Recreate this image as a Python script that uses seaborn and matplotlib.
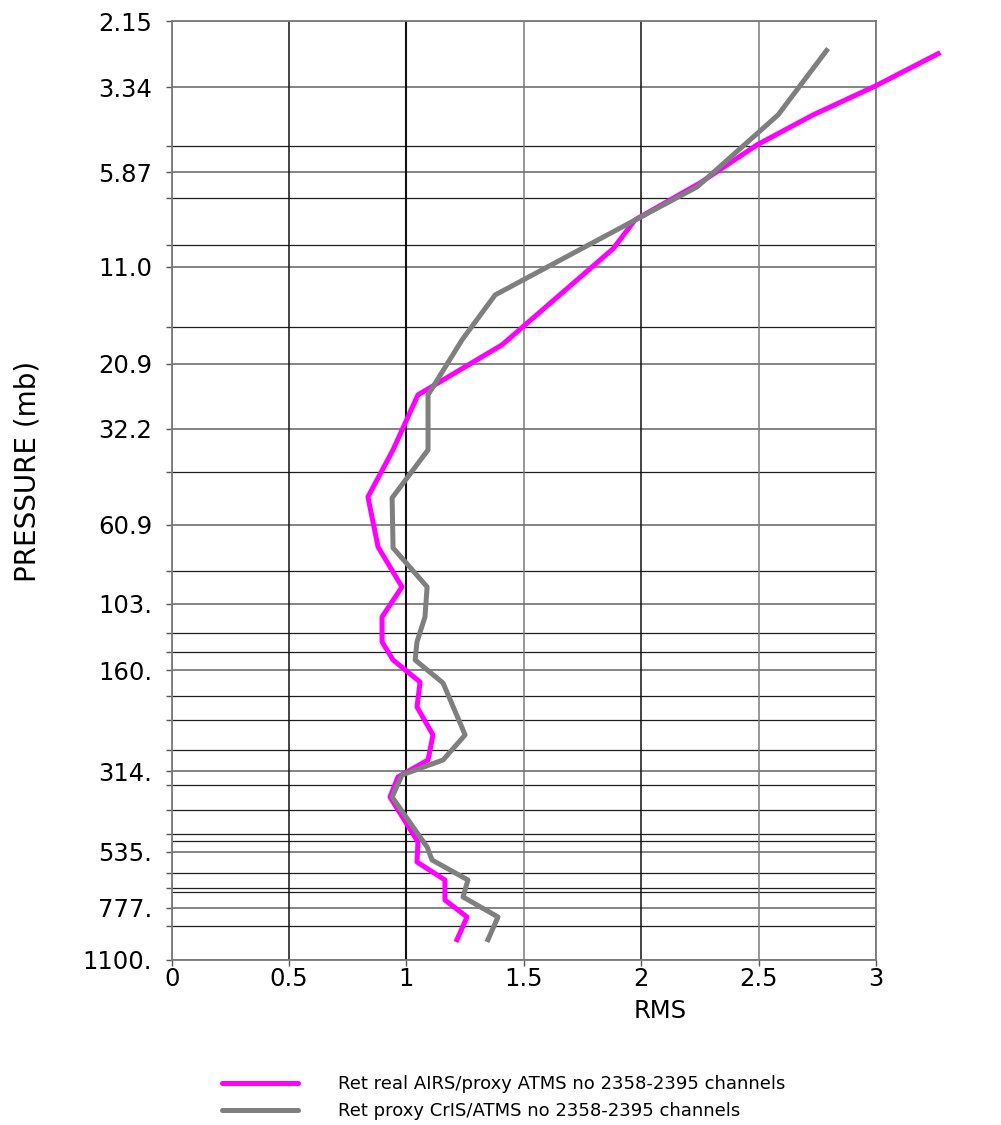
import numpy as np
import pandas as pd
import matplotlib
matplotlib.use("Agg")
import matplotlib.pyplot as plt
import seaborn as sns

# ---------------- data ----------------
label_levels = [2.1526, 3.3398, 5.8776, 11.0038, 20.9224, 32.2744, 60.9895,
                103.0172, 160.4959, 314.1369, 535.2322, 777.7897, 1100.0]
label_text = ["2.15", "3.34", "5.87", "11.0", "20.9", "32.2", "60.9",
              "103.", "160.", "314.", "535.", "777.", "1100."]
minor_levels = [4.9204, 6.9567, 9.5119, 16.4318, 43.1001, 83.2310, 125.6456,
                142.3848, 190.3203, 223.4415, 272.9191, 343.6176, 407.4738,
                477.9607, 617.5112, 683.6673, 878.6201]
extra_levels = [500.0, 700.0]
x_ticks = [0, 0.5, 1, 1.5, 2, 2.5, 3]
x_tick_text = ["0", "0.5", "1", "1.5", "2", "2.5", "3"]

series_names = ["Ret real AIRS/proxy ATMS no 2358-2395 channels",
                "Ret proxy CrIS/ATMS no 2358-2395 channels"]

airs_p = [2.65, 3.31, 4.01, 4.89, 6.30, 8.05, 9.76, 18.48, 25.76, 37.12, 50.74,
          70.72, 92.26, 112.6, 132.9, 149.9, 173.5, 204.8, 246.7, 291.3, 326.1,
          372.5, 502.2, 573.8, 646.6, 738.6, 826.7, 976.1]
airs_rms = [3.274, 2.997, 2.732, 2.494, 2.251, 1.974, 1.880, 1.407, 1.049, 0.943,
            0.836, 0.879, 0.981, 0.896, 0.896, 0.943, 1.058, 1.045, 1.113, 1.092,
            0.964, 0.930, 1.049, 1.045, 1.164, 1.164, 1.258, 1.211]

cris_p = [2.58, 4.01, 6.47, 13.26, 17.87, 25.76, 37.12, 51.08, 71.19, 92.26,
          112.6, 132.9, 149.9, 174.7, 246.7, 291.3, 321.8, 372.5, 519.3, 566.2,
          646.6, 723.9, 826.7, 976.1]
cris_rms = [2.796, 2.583, 2.238, 1.378, 1.237, 1.092, 1.092, 0.939, 0.943, 1.088,
            1.079, 1.045, 1.037, 1.156, 1.250, 1.156, 0.981, 0.939, 1.088, 1.109,
            1.262, 1.241, 1.390, 1.343]

line_colors = ["#ff00ff", "#7f7f7f"]

df = pd.concat([
    pd.DataFrame({"pressure": airs_p, "rms": airs_rms, "series": series_names[0]}),
    pd.DataFrame({"pressure": cris_p, "rms": cris_rms, "series": series_names[1]}),
], ignore_index=True)

# ---------------- figure ----------------
sns.set_style("white")
plt.rcParams["font.family"] = ["DejaVu Sans"]
plt.rcParams["text.color"] = "black"
plt.rcParams["axes.labelcolor"] = "black"

fig = plt.figure(figsize=(10.01, 11.25), dpi=100)
ax = fig.add_axes([0.1715, 0.1467, 0.7036, 0.8344])

sns.lineplot(data=df, x="rms", y="pressure", hue="series", hue_order=series_names,
             palette=line_colors, sort=False, estimator=None, linewidth=3.6,
             ax=ax, legend=True, zorder=5)
for ln in ax.lines:
    ln.set_clip_on(False)
    ln.set_solid_capstyle("butt")
    ln.set_solid_joinstyle("round")

ax.set_yscale("log")
ax.set_ylim(1100.0, 2.1526)
ax.set_xlim(0, 3)

# grid lines
for lv in label_levels:
    ax.axhline(lv, color="#7a7a7a", lw=1.3, zorder=1)
for lv in minor_levels:
    ax.axhline(lv, color="#1e1e1e", lw=0.9, zorder=1)
for lv in extra_levels:
    ax.axhline(lv, color="#1e1e1e", lw=0.9, zorder=1)
for xv in x_ticks:
    col = "#7a7a7a" if xv in (1.5, 2.5, 3, 0) else "#111111"
    lw = 1.5 if xv == 1 else 1.1
    ax.axvline(xv, color=col, lw=lw, zorder=1)

# ticks
all_levels = label_levels + minor_levels
all_text = label_text + [""] * len(minor_levels)
ax.yaxis.set_major_locator(matplotlib.ticker.FixedLocator(all_levels))
ax.yaxis.set_major_formatter(matplotlib.ticker.FixedFormatter(all_text))
ax.yaxis.set_minor_locator(matplotlib.ticker.NullLocator())
ax.set_xticks(x_ticks)
ax.set_xticklabels(x_tick_text)
ax.tick_params(axis="y", which="major", direction="out", length=4, width=1,
               color="#555555", labelcolor="black", labelsize=17.5, pad=10, left=True)
ax.tick_params(axis="x", which="major", direction="out", length=4, width=1,
               color="#555555", labelcolor="black", labelsize=17.5, pad=1, bottom=True)

for sp in ax.spines.values():
    sp.set_color("#7a7a7a")
    sp.set_linewidth(1.3)

ax.set_xlabel("RMS", fontsize=17.5, color="black")
ax.xaxis.set_label_coords(0.693, -0.042)
ax.set_ylabel("PRESSURE (mb)", fontsize=20, color="black")
ax.yaxis.set_label_coords(-0.185, 0.52)

sns.move_legend(ax, "upper left", bbox_to_anchor=(0.2218, 0.0444),
                bbox_transform=fig.transFigure, title=None, frameon=False,
                fontsize=13, handlelength=4.2, handletextpad=2.2,
                labelspacing=0.5, borderpad=0, borderaxespad=0)
for t in ax.get_legend().get_texts():
    t.set_color("black")

fig.savefig("out.png", dpi=100)
